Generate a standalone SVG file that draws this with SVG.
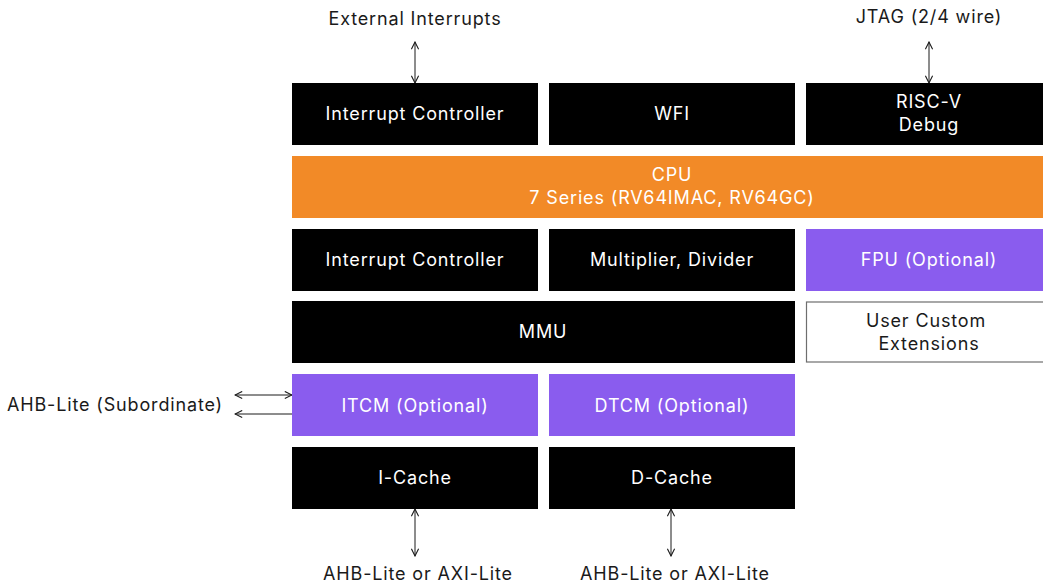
<svg xmlns="http://www.w3.org/2000/svg" width="1043" height="584" viewBox="0 0 1043 584">
  <style>
    text { font-family: Inter, "Liberation Sans", sans-serif; font-size: 18px; letter-spacing: 0.85px; text-anchor: middle; dominant-baseline: central; }
    .dark { fill: #000000; }
    .orange { fill: #F28A27; }
    .purple { fill: #8A5CEE; }
    .outline { fill: #FFFFFF; stroke: #6E6E6E; stroke-width: 1.2; }
    .wt { fill: #FFFFFF; }
    .bt { fill: #1A1A1A; }
    .conn { stroke: #1A1A1A; stroke-width: 1; fill: none; }
  </style>
  <defs>
    <marker id="arr" viewBox="0 0 10 10" refX="9" refY="5" markerWidth="9" markerHeight="9" markerUnits="userSpaceOnUse" orient="auto-start-reverse">
      <path d="M1,1 L9,5 L1,9" fill="none" stroke="#1A1A1A" stroke-width="1.2"/>
    </marker>
  </defs>
  <rect width="1043" height="584" fill="#FFFFFF"/>

  <g id="connectors">
    <line class="conn" x1="415" y1="42" x2="415" y2="83" marker-start="url(#arr)" marker-end="url(#arr)"/>
    <line class="conn" x1="929" y1="42" x2="929" y2="83" marker-start="url(#arr)" marker-end="url(#arr)"/>
    <line class="conn" x1="235" y1="395" x2="292" y2="395" marker-start="url(#arr)" marker-end="url(#arr)"/>
    <line class="conn" x1="235" y1="414" x2="292" y2="414" marker-start="url(#arr)"/>
    <line class="conn" x1="415" y1="509" x2="415" y2="556" marker-start="url(#arr)" marker-end="url(#arr)"/>
    <line class="conn" x1="671" y1="509" x2="671" y2="556" marker-start="url(#arr)" marker-end="url(#arr)"/>
  </g>

  <g id="labels">
    <text class="bt" x="415" y="18">External Interrupts</text>
    <text class="bt" x="929" y="16">JTAG (2/4 wire)</text>
    <text class="bt" x="115" y="404">AHB-Lite (Subordinate)</text>
    <text class="bt" x="418" y="573">AHB-Lite or AXI-Lite</text>
    <text class="bt" x="675" y="573">AHB-Lite or AXI-Lite</text>
  </g>

  <g id="interrupt-controller-top">
    <rect class="dark" x="292" y="83" width="246" height="62"/>
    <text class="wt" x="415" y="113">Interrupt Controller</text>
  </g>
  <g id="wfi">
    <rect class="dark" x="549" y="83" width="246" height="62"/>
    <text class="wt" x="672" y="113">WFI</text>
  </g>
  <g id="risc-v-debug">
    <rect class="dark" x="806" y="83" width="237" height="62"/>
    <text class="wt" x="929" y="101">RISC-V</text>
    <text class="wt" x="929" y="124">Debug</text>
  </g>

  <g id="cpu">
    <rect class="orange" x="292" y="156" width="751" height="62"/>
    <text class="wt" x="672" y="174">CPU</text>
    <text class="wt" x="672" y="197">7 Series (RV64IMAC, RV64GC)</text>
  </g>

  <g id="interrupt-controller">
    <rect class="dark" x="292" y="229" width="246" height="62"/>
    <text class="wt" x="415" y="259">Interrupt Controller</text>
  </g>
  <g id="multiplier-divider">
    <rect class="dark" x="549" y="229" width="246" height="62"/>
    <text class="wt" x="672" y="259">Multiplier, Divider</text>
  </g>
  <g id="fpu">
    <rect class="purple" x="806" y="229" width="237" height="62"/>
    <text class="wt" x="929" y="259">FPU (Optional)</text>
  </g>

  <g id="mmu">
    <rect class="dark" x="292" y="301" width="503" height="62"/>
    <text class="wt" x="543" y="331">MMU</text>
  </g>
  <g id="user-custom-extensions">
    <rect class="outline" x="806.5" y="302" width="240" height="60"/>
    <text class="bt" x="926" y="320">User Custom</text>
    <text class="bt" x="929" y="343">Extensions</text>
  </g>

  <g id="itcm">
    <rect class="purple" x="292" y="374" width="246" height="62"/>
    <text class="wt" x="415" y="405">ITCM (Optional)</text>
  </g>
  <g id="dtcm">
    <rect class="purple" x="549" y="374" width="246" height="62"/>
    <text class="wt" x="672" y="405">DTCM (Optional)</text>
  </g>

  <g id="i-cache">
    <rect class="dark" x="292" y="447" width="246" height="62"/>
    <text class="wt" x="415" y="477">I-Cache</text>
  </g>
  <g id="d-cache">
    <rect class="dark" x="549" y="447" width="246" height="62"/>
    <text class="wt" x="672" y="477">D-Cache</text>
  </g>
</svg>
